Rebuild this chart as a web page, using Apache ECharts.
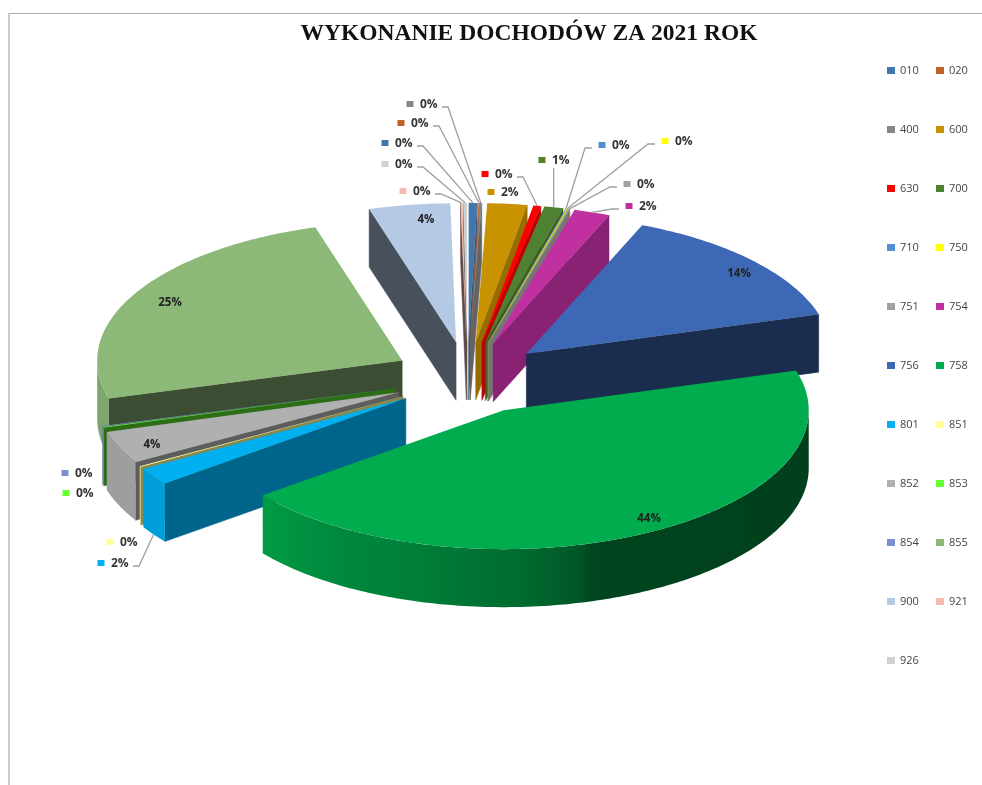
<!DOCTYPE html>
<html>
<head>
<meta charset="utf-8">
<title>Wykonanie dochodów</title>
<script src="https://cdn.jsdelivr.net/npm/echarts@6/dist/echarts.min.js"></script>
<style>
  html, body { margin: 0; padding: 0; background: #fff; }
  #chart { width: 982px; height: 785px; }
</style>
</head>
<body>
<div id="chart"></div>
<script>
  // dzialy budzetu i ich udzial w dochodach
  let categories = ['010', '020', '400', '600', '630', '700', '710', '750', '751', '754', '756',
    '758', '801', '851', '852', '853', '854', '855', '900', '921', '926'];
  let values = [0.45, 0.05, 0.1, 2.1, 0.4, 1.0, 0.05, 0.05, 0.1, 1.9, 14.2,
    44.1, 2.0, 0.1, 3.8, 0.1, 0.1, 24.8, 4.3, 0.1, 0.2];
  let colors = ['#4177ab', '#c0622a', '#868686', '#c89200', '#ff0000', '#4f8132', '#5090d0', '#ffff00', '#a0a0a0', '#c030a0', '#3d68b5',
    '#00ac4d', '#00b0f0', '#ffff99', '#b0b0b0', '#66ff33', '#7b8fcf', '#8cb878', '#b4c9e4', '#f6bcb0', '#d0d0d0'];

  // uklad etykiet: [x znacznika, y znacznika, linia odniesienia]
  let outerLabels = {
    '400': [410, 104, 'right'], '020': [401, 123, 'right'], '010': [385, 143, 'right'],
    '926': [385, 164, 'right'], '921': [403, 191, 'right'], '630': [485, 174, 'right'],
    '600': [491, 192, 'none'], '700': [542, 160, 'top'], '710': [602, 145, 'left'],
    '750': [665, 141, 'left'], '751': [627, 184, 'left'], '754': [629, 206, 'left'],
    '854': [65, 473, 'none'], '853': [66, 493, 'none'], '851': [110, 542, 'none'],
    '801': [101, 563, 'right']
  };
  let innerLabels = {
    '756': [739, 274], '758': [649, 519], '855': [170, 303], '900': [426, 220], '852': [152, 445]
  };

  // geometria "3D": elipsa, wysuniecie wycinkow, grubosc
  let cx = 467.5, cy = 378, rx = 305, ry = 139, explode = 0.26, depth = 58;
  let wallFrom = 264, wallTo = 810;
  let wallStops = [[0, 0.9], [0.12, 0.8], [0.3, 0.72], [0.47, 0.62], [0.58, 0.5], [0.6, 0.4], [1, 0.37]];
  let total = values.reduce(function (a, b) { return a + b; }, 0);

  function shade(hex, f) {
    let n = parseInt(hex.slice(1), 16);
    let r = Math.round(((n >> 16) & 255) * f);
    let g = Math.round(((n >> 8) & 255) * f);
    let b = Math.round((n & 255) * f);
    return 'rgb(' + r + ',' + g + ',' + b + ')';
  }
  function rad(d) { return d * Math.PI / 180; }

  let slices = [];
  let sum = 0;
  for (let i = 0; i < values.length; i++) {
    let a = sum / total * 360;
    sum += values[i];
    let b = sum / total * 360;
    let mid = (a + b) / 2;
    let sx = Math.sin(rad(mid));
    slices.push({
      index: i, a: a, b: b, mid: mid,
      // lewa strona jest w oryginale wysunieta nieco mniej
      ox: cx + explode * rx * sx * (sx < 0 ? 0.94 : 1),
      oy: cy - explode * ry * Math.cos(rad(mid))
    });
  }

  function rim(s, deg, down) {
    return [s.ox + rx * Math.sin(rad(deg)), s.oy - ry * Math.cos(rad(deg)) + (down ? depth : 0)];
  }

  function radialFace(s, deg, nx) {
    let f = Math.max(0.4, 0.3 + 0.45 * nx);
    let col = shade(colors[s.index], f);
    return {
      type: 'polygon',
      shape: { points: [[s.ox, s.oy], rim(s, deg), rim(s, deg, true), [s.ox, s.oy + depth]] },
      style: { fill: col, stroke: col, lineWidth: 0.5 }
    };
  }

  function wallFill(s) {
    return {
      type: 'linear',
      global: true,
      x: wallFrom, y: 0, x2: wallTo, y2: 0,
      colorStops: wallStops.map(function (st) {
        return { offset: st[0], color: shade(colors[s.index], st[1]) };
      })
    };
  }

  function renderSlice(s) {
    return function () {
      let children = [];
      // sciany przekroju, tylko te zwrocone do widza
      if (s.b > 0 && s.b < 180) {
        children.push(radialFace(s, s.b, Math.cos(rad(s.b))));
      }
      if (s.a > 180 && s.a < 360) {
        children.push(radialFace(s, s.a, -Math.cos(rad(s.a))));
      }
      // sciana zewnetrzna z cieniowaniem
      let from = Math.max(s.a, 90), to = Math.min(s.b, 270);
      if (from < to) {
        let upper = [], lower = [];
        let n = Math.max(2, Math.ceil(to - from));
        for (let k = 0; k <= n; k++) {
          let d = from + (to - from) * k / n;
          upper.push(rim(s, d));
          lower.unshift(rim(s, d, true));
        }
        children.push({
          type: 'polygon',
          shape: { points: upper.concat(lower) },
          style: { fill: wallFill(s) }
        });
      }
      // gora wycinka
      let top = [[s.ox, s.oy]];
      let steps = Math.max(2, Math.ceil(s.b - s.a));
      for (let k = 0; k <= steps; k++) {
        top.push(rim(s, s.a + (s.b - s.a) * k / steps));
      }
      children.push({
        type: 'polygon',
        shape: { points: top },
        style: { fill: colors[s.index] }
      });
      return { type: 'group', children: children };
    };
  }

  function percent(i) {
    return Math.round(values[i] / total * 100) + '%';
  }

  function renderLabels() {
    let children = [];
    categories.forEach(function (code, i) {
      let s = slices[i];
      let inner = innerLabels[code];
      if (inner) {
        children.push({
          type: 'text',
          style: { text: percent(i), x: inner[0], y: inner[1], fill: '#222', align: 'center', verticalAlign: 'middle',
            font: 'bold 11.5px "Open Sans"' }
        });
      }
      let out = outerLabels[code];
      if (!out) return;
      let x = out[0], y = out[1], side = out[2];
      let target = rim(s, s.mid, Math.cos(rad(s.mid)) < 0);
      let line = null;
      if (side === 'right') line = [[x + 32, y + 3], [x + 38, y + 3], target];
      if (side === 'left') line = [[x - 10, y + 3], [x - 17, y + 3], target];
      if (side === 'top') line = [[target[0], y + 8], target];
      if (line) {
        children.push({
          type: 'polyline',
          shape: { points: line },
          style: { fill: 'none', stroke: '#a0a0a0', lineWidth: 1.3 }
        });
      }
      children.push({
        type: 'rect',
        shape: { x: x - 3.5, y: y - 3, width: 7, height: 6 },
        style: { fill: colors[i] }
      });
      children.push({
        type: 'text',
        style: { text: percent(i), x: x + 10, y: y + 1, fill: '#333', align: 'left', verticalAlign: 'middle',
          font: 'bold 12px "Open Sans"' }
      });
    });
    return { type: 'group', children: children };
  }

  // kolejnosc rysowania: od tylu do przodu
  let drawOrder = slices.slice().sort(function (p, q) {
    return Math.cos(rad(q.mid)) - Math.cos(rad(p.mid));
  });

  let series = drawOrder.map(function (s, n) {
    return {
      type: 'custom',
      name: categories[s.index],
      coordinateSystem: 'none',
      silent: true,
      animation: false,
      z: 2 + n,
      itemStyle: { color: colors[s.index] },
      data: [[values[s.index]]],
      renderItem: renderSlice(s)
    };
  });
  series.push({
    type: 'custom',
    name: 'etykiety',
    coordinateSystem: 'none',
    silent: true,
    animation: false,
    z: 40,
    data: [[0]],
    renderItem: renderLabels
  });

  function legendColumn(left, names) {
    return {
      orient: 'vertical',
      left: left,
      top: 63.5,
      padding: 0,
      itemWidth: 8,
      itemHeight: 7,
      itemGap: 45,
      icon: 'rect',
      selectedMode: false,
      data: names,
      textStyle: { fontFamily: 'Open Sans', fontSize: 11, color: '#444', lineHeight: 14 }
    };
  }

  let chart = echarts.init(document.getElementById('chart'));
  chart.setOption({
    backgroundColor: '#fff',
    animation: false,
    title: {
      text: 'WYKONANIE DOCHODÓW ZA 2021 ROK',
      left: 524,
      top: 17,
      textAlign: 'center',
      textStyle: { fontFamily: 'Liberation Serif', fontWeight: 'bold', fontSize: 23.5, color: '#111' }
    },
    legend: [
      legendColumn(887, categories.filter(function (c, i) { return i % 2 === 0; })),
      legendColumn(936, categories.filter(function (c, i) { return i % 2 === 1; }))
    ],
    graphic: [
      { type: 'line', shape: { x1: 8, y1: 13.5, x2: 982, y2: 13.5 }, style: { stroke: '#aaa', lineWidth: 1 } },
      { type: 'line', shape: { x1: 9, y1: 13, x2: 9, y2: 785 }, style: { stroke: '#ccc', lineWidth: 2 } }
    ],
    series: series
  });
</script>
</body>
</html>
